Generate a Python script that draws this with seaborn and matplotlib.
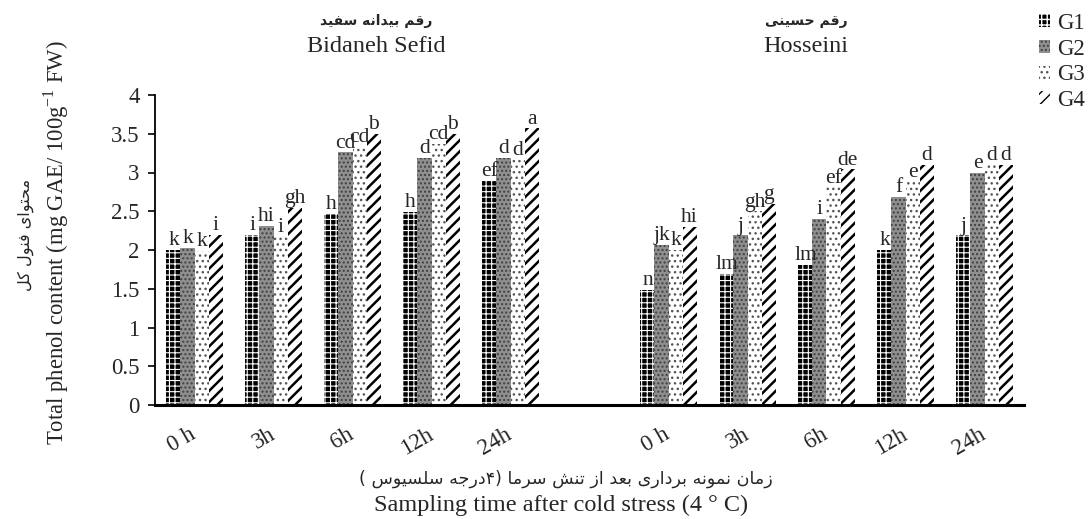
import pandas as pd
import seaborn as sns
import matplotlib.pyplot as plt
from matplotlib.patches import Patch
from matplotlib.ticker import FuncFormatter

# values
times = ['0 h', '3h', '6h', '12h', '24h']
groups = ['G1', 'G2', 'G3', 'G4']

bidaneh_g1 = [2.00, 2.20, 2.47, 2.49, 2.90]
bidaneh_g2 = [2.03, 2.31, 3.26, 3.19, 3.19]
bidaneh_g3 = [1.99, 2.17, 3.33, 3.37, 3.16]
bidaneh_g4 = [2.20, 2.54, 3.50, 3.50, 3.57]
hosseini_g1 = [1.49, 1.69, 1.81, 2.00, 2.19]
hosseini_g2 = [2.07, 2.19, 2.40, 2.69, 3.00]
hosseini_g3 = [2.00, 2.50, 2.81, 2.88, 3.10]
hosseini_g4 = [2.30, 2.60, 3.04, 3.10, 3.10]

bidaneh_letters = [['k', 'k', 'k', 'i'], ['i', 'hi', 'i', 'gh'], ['h', 'cd', 'cd', 'b'],
                   ['h', 'd', 'cd', 'b'], ['ef', 'd', 'd', 'a']]
hosseini_letters = [['n', 'jk', 'k', 'hi'], ['lm', 'j', 'gh', 'g'], ['lm', 'i', 'ef', 'de'],
                    ['k', 'f', 'e', 'd'], ['j', 'e', 'd', 'd']]

# minimal persian shaping (matplotlib has no arabic shaping)
FORMS = {
    'ا': ('\ufe8d', '\ufe8e', None, None), 'ب': ('\ufe8f', '\ufe90', '\ufe91', '\ufe92'),
    'ت': ('\ufe95', '\ufe96', '\ufe97', '\ufe98'), 'ج': ('\ufe9d', '\ufe9e', '\ufe9f', '\ufea0'),
    'ح': ('\ufea1', '\ufea2', '\ufea3', '\ufea4'), 'د': ('\ufea9', '\ufeaa', None, None),
    'ر': ('\ufead', '\ufeae', None, None), 'ز': ('\ufeaf', '\ufeb0', None, None),
    'س': ('\ufeb1', '\ufeb2', '\ufeb3', '\ufeb4'), 'ش': ('\ufeb5', '\ufeb6', '\ufeb7', '\ufeb8'),
    'ع': ('\ufec9', '\ufeca', '\ufecb', '\ufecc'),
    'ف': ('\ufed1', '\ufed2', '\ufed3', '\ufed4'), 'ق': ('\ufed5', '\ufed6', '\ufed7', '\ufed8'),
    'ل': ('\ufedd', '\ufede', '\ufedf', '\ufee0'), 'م': ('\ufee1', '\ufee2', '\ufee3', '\ufee4'),
    'ن': ('\ufee5', '\ufee6', '\ufee7', '\ufee8'), 'ه': ('\ufee9', '\ufeea', '\ufeeb', '\ufeec'),
    'و': ('\ufeed', '\ufeee', None, None), 'ک': ('\ufb8e', '\ufb8f', '\ufb90', '\ufb91'),
    'ی': ('\ufbfc', '\ufbfd', '\ufbfe', '\ufbff'),
}


def fa(s):
    out = []
    for i, c in enumerate(s):
        if c not in FORMS:
            out.append(c)
            continue
        f = FORMS[c]
        prev = s[i - 1] if i > 0 else ''
        nxt = s[i + 1] if i + 1 < len(s) else ''
        jp = prev in FORMS and FORMS[prev][2] is not None
        jn = nxt in FORMS and f[2] is not None
        if jp and jn:
            out.append(f[3])
        elif jp:
            out.append(f[1])
        elif jn:
            out.append(f[2])
        else:
            out.append(f[0])
    return ''.join(out)[::-1].translate(str.maketrans('()', ')('))


sns.set_style('ticks')
plt.rcParams['font.family'] = ['Liberation Serif', 'DejaVu Sans']
plt.rcParams['mathtext.fontset'] = 'custom'
plt.rcParams['mathtext.rm'] = 'Liberation Serif'
plt.rcParams['hatch.linewidth'] = 1.0
FA = ['DejaVu Sans']
FS = 16.5

# long table, one empty slot between the two cultivars
rows = []
for variety, vals in [('B', [bidaneh_g1, bidaneh_g2, bidaneh_g3, bidaneh_g4]),
                      ('H', [hosseini_g1, hosseini_g2, hosseini_g3, hosseini_g4])]:
    for g, series in zip(groups, vals):
        for t, v in zip(times, series):
            rows.append({'slot': variety + t, 'group': g, 'value': v})
df = pd.DataFrame(rows)
order = ['B' + t for t in times] + ['gap'] + ['H' + t for t in times]
ticklabels = times + [''] + times

W, H = 1089, 519
fig = plt.figure(figsize=(W / 100, H / 100), dpi=100)
ax = fig.add_axes([155 / W, 1 - 405 / H, (1024 - 155) / W, 310 / H])

sns.barplot(data=df, x='slot', y='value', hue='group', order=order, hue_order=groups,
            width=0.71, errorbar=None, legend=False, ax=ax)

styles = [
    dict(facecolor='black', edgecolor='white', hatch='+++'),
    dict(facecolor='#8f8f8f', edgecolor='#404040', hatch='....'),
    dict(facecolor='white', edgecolor='#555555', hatch='...'),
    dict(facecolor='white', edgecolor='black', hatch='///'),
]
hatch_lw = [0.8, 1.0, 1.0, 1.8]

bw = 0.71 / 4
for p in ax.patches:
    xc = p.get_x() + p.get_width() / 2
    slot = int(round(xc))
    gi = int(round((xc - slot + 0.71 / 2 - bw / 2) / bw))
    p.set(**styles[gi])
    p.set_linewidth(0)
    if hasattr(p, 'set_hatch_linewidth'):
        p.set_hatch_linewidth(hatch_lw[gi])
    letters = bidaneh_letters if slot < 5 else hosseini_letters
    ti = slot if slot < 5 else slot - 6
    ax.text(xc, p.get_height() + 0.06, letters[ti][gi], ha='center', va='baseline', fontsize=15.5)

ax.set_ylim(0, 4)
ax.set_xlim(-0.5, 10.5)
ax.set_yticks([0, 0.5, 1, 1.5, 2, 2.5, 3, 3.5, 4])
ax.yaxis.set_major_formatter(FuncFormatter(lambda v, _: '%g' % v))
ax.tick_params(axis='y', labelsize=FS, length=5, width=1.2, pad=6, color='black')
ax.set_xticks(range(len(order)))
ax.set_xticklabels(ticklabels, rotation=30, ha='right', va='center', rotation_mode='anchor', fontsize=FS)
ax.tick_params(axis='x', length=0, pad=20)
ax.set_xlabel('')
ax.set_ylabel('')
sns.despine(ax=ax)
ax.spines['left'].set_linewidth(1.3)
ax.spines['bottom'].set_linewidth(2.2)
for s in ['left', 'bottom']:
    ax.spines[s].set_color('black')


def px(x, y):
    return x / W, 1 - y / H


fig.text(*px(376, 21), fa('رقم بیدانه سفید'), ha='center', va='center', fontsize=10,
         fontweight='bold', family=FA)
fig.text(*px(376, 47), 'Bidaneh Sefid', ha='center', va='center', fontsize=17.5)
fig.text(*px(806, 21), fa('رقم حسینی'), ha='center', va='center', fontsize=10,
         fontweight='bold', family=FA)
fig.text(*px(806, 47), 'Hosseini', ha='center', va='center', fontsize=17.5)

fig.text(*px(566, 479), fa('زمان نمونه برداری بعد از تنش سرما (۴درجه سلسیوس )'),
         ha='center', va='center', fontsize=12.6, family=FA)
fig.text(*px(561, 505), 'Sampling time after cold stress (4 ° C)', ha='center', va='center', fontsize=17.5)

fig.text(*px(26, 235), fa('محتوای فنول کل'), rotation=90, ha='center', va='center',
         fontsize=11.6, family=FA)
fig.text(*px(56, 243), r'Total phenol content (mg GAE/ 100g$^{-1}$ FW)', rotation=90,
         ha='center', va='center', fontsize=16.3)

handles = []
for st, lw in zip(styles, hatch_lw):
    h = Patch(linewidth=0, **st)
    if hasattr(h, 'set_hatch_linewidth'):
        h.set_hatch_linewidth(lw)
    handles.append(h)
fig.legend(handles, groups, loc='upper left', bbox_to_anchor=px(1039, 13), frameon=False,
           fontsize=FS, handlelength=0.5, handleheight=0.5, handletextpad=0.3,
           labelspacing=0.2, borderpad=0, borderaxespad=0)

fig.savefig('out.png', dpi=100)
